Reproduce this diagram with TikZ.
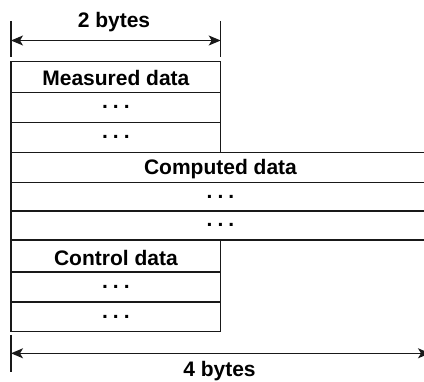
\documentclass[tikz,border=0pt]{standalone}
\usepackage{fontspec}
\setmainfont{Liberation Sans}
\usetikzlibrary{arrows.meta}
\newcommand{\mydots}{.\hspace{5pt}.\hspace{5pt}.}
\tikzset{
  cell/.style={draw=black!90,line width=1.2pt},
  lab/.style={font=\bfseries\fontsize{21}{24}\selectfont,anchor=base,inner sep=0pt},
  dots/.style={font=\bfseries\fontsize{21}{24}\selectfont,anchor=base,inner sep=0pt},
  dimline/.style={line width=1.2pt,draw=black!90,
    {Stealth[length=12pt,width=10pt,inset=3pt]}-{Stealth[length=12pt,width=10pt,inset=3pt]}},
  ticks/.style={line width=1.2pt,draw=black!90}
}
\begin{document}
\begin{tikzpicture}[x=1pt,y=-1pt]
\useasboundingbox (0,0) rectangle (424,382);
\clip (0,0) rectangle (424,382);
% narrow rows (2 bytes)
\draw[cell] (11,61.3) rectangle (220.7,92.3);
\draw[cell] (11,92.3) rectangle (220.7,122.3);
\draw[cell] (11,122.3) rectangle (220.7,152.7);
% wide rows (4 bytes)
\draw[cell] (11,152.7) rectangle (430,182.7);
\draw[cell] (11,182.7) rectangle (430,211);
\draw[cell] (11,211) rectangle (430,240);
% narrow rows
\draw[cell] (11,240) rectangle (220.7,272);
\draw[cell] (11,272) rectangle (220.7,302);
\draw[cell] (11,302) rectangle (220.7,331.7);
% texts
\node[lab] (meas) at (115.9,85.5) {Measured data};
\node[dots] (d1) at (115.9,108.8) {\mydots};
\node[dots] (d2) at (115.9,139) {\mydots};
\node[lab] (comp) at (220.5,175) {Computed data};
\node[dots] (d3) at (220.5,198.3) {\mydots};
\node[dots] (d4) at (220.5,227) {\mydots};
\node[lab] (ctrl) at (115.9,265.3) {Control data};
\node[dots] (d5) at (115.9,288.5) {\mydots};
\node[dots] (d6) at (115.9,318.3) {\mydots};
% top dimension
\coordinate (t1a) at (11,21);
\coordinate (t1b) at (11,57);
\coordinate (t2a) at (220.7,21);
\coordinate (t2b) at (220.7,57);
\coordinate (ta) at (11,40.5);
\coordinate (tb) at (220.7,40.5);
\draw[ticks] (t1a) -- (t1b);
\draw[ticks] (t2a) -- (t2b);
\draw[dimline] (ta) -- (tb);
\node[lab] (two) at (114,27.3) {2 bytes};
% bottom dimension
\coordinate (b1a) at (11,335);
\coordinate (b1b) at (11,372);
\coordinate (b2a) at (430,335);
\coordinate (b2b) at (430,372);
\coordinate (ba) at (11,353.3);
\coordinate (bb) at (430,353.3);
\draw[ticks] (b1a) -- (b1b);
\draw[ticks] (b2a) -- (b2b);
\draw[dimline] (ba) -- (bb);
\node[lab] (four) at (219.5,376.7) {4 bytes};
\end{tikzpicture}
\end{document}
